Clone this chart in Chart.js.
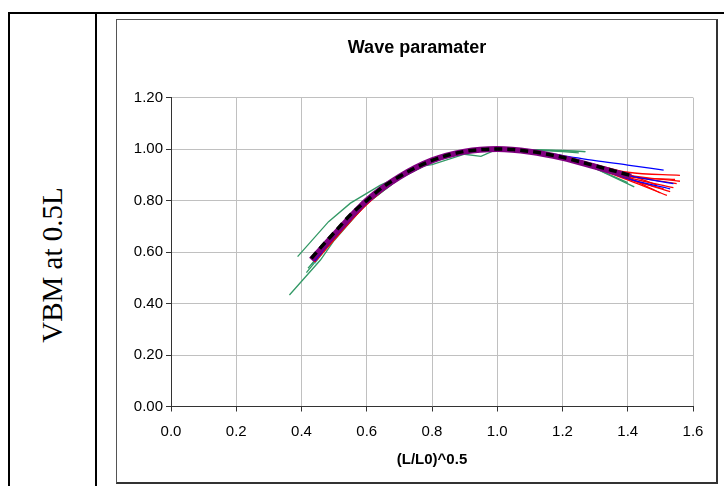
<!DOCTYPE html>
<html>
<head>
<meta charset="utf-8">
<script src="https://cdn.jsdelivr.net/npm/chart.js@4.4.1/dist/chart.umd.min.js"></script>
<style>
  body { margin: 0; background: #fff; }
  #page { position: relative; width: 724px; height: 486px; overflow: hidden; }
  .ln { position: absolute; background: #000; }
  #box { position: absolute; left: 116px; top: 19px; width: 602px; height: 465px; box-sizing: border-box;
         border: 1px solid #555; border-right: 2px solid #333; border-bottom: 2px solid #333; }
  #side { position: absolute; left: 52px; top: 265px; transform: translate(-50%, -50%) rotate(-90deg);
          font: 29px "Liberation Serif", "Times New Roman", serif; white-space: nowrap; color: #000; }
  #wave { position: absolute; left: 0; top: 0; }
</style>
</head>
<body>
<div id="page">
  <div class="ln" style="left:8px;top:12px;width:716px;height:2px"></div>
  <div class="ln" style="left:8px;top:12px;width:2px;height:474px"></div>
  <div class="ln" style="left:95px;top:12px;width:2px;height:474px"></div>
  <div id="box"></div>
  <div id="side">VBM at 0.5L</div>
  <canvas id="wave" width="724" height="486"></canvas>
</div>
<script>
// axis ticks
const X_TICKS = [0, 0.2, 0.4, 0.6, 0.8, 1.0, 1.2, 1.4, 1.6];
const Y_TICKS = [0, 0.2, 0.4, 0.6, 0.8, 1.0, 1.2];

// mean curve (black dashed) and the thick purple one
const meanX = [0.43, 0.45, 0.5, 0.55, 0.6, 0.65, 0.7, 0.75, 0.8, 0.85, 0.9, 0.95, 1.0, 1.05, 1.1, 1.15, 1.2, 1.25, 1.3, 1.35, 1.41];
const meanY = [0.575, 0.605, 0.675, 0.745, 0.80, 0.853, 0.893, 0.928, 0.956, 0.977, 0.991, 0.998, 1.0, 0.998, 0.991, 0.981, 0.968, 0.952, 0.935, 0.918, 0.897];
const purpleX = [0.43, 0.5, 0.6, 0.7, 0.8, 0.9, 1.0, 1.1, 1.2, 1.3, 1.41];
const purpleY = [0.57, 0.667, 0.80, 0.892, 0.956, 0.99, 1.0, 0.99, 0.966, 0.932, 0.893];

// red runs share the body x values, each has its own tail end
const redX = [0.44, 0.5, 0.6, 0.7, 0.8, 0.9, 1.0, 1.1, 1.2, 1.3, 1.4];
const red1 = [0.575, 0.66, 0.795, 0.89, 0.955, 0.99, 1.0, 0.992, 0.97, 0.94, 0.91];
const red2 = [0.57, 0.655, 0.79, 0.888, 0.954, 0.99, 1.0, 0.99, 0.965, 0.933, 0.897];
const red3 = [0.565, 0.65, 0.788, 0.886, 0.953, 0.989, 1.0, 0.99, 0.964, 0.93, 0.89];
const red4 = [0.56, 0.648, 0.785, 0.885, 0.952, 0.989, 1.0, 0.989, 0.962, 0.928, 0.885];
const red5 = [0.568, 0.652, 0.79, 0.887, 0.953, 0.99, 1.0, 0.99, 0.963, 0.927, 0.88];
const red6 = [0.572, 0.657, 0.792, 0.889, 0.955, 0.99, 1.0, 0.99, 0.966, 0.932, 0.888];
const red7 = [0.562, 0.65, 0.787, 0.886, 0.953, 0.99, 1.0, 0.99, 0.965, 0.935, 0.9];
const red8 = [0.566, 0.653, 0.789, 0.887, 0.954, 0.99, 1.0, 0.991, 0.967, 0.936, 0.902];
const red9 = [0.563, 0.651, 0.788, 0.886, 0.953, 0.99, 1.0, 0.99, 0.964, 0.931, 0.893];
const red10 = [0.569, 0.654, 0.791, 0.888, 0.954, 0.99, 1.0, 0.99, 0.963, 0.929, 0.884];
const redEndX = [1.56, 1.55, 1.54, 1.53, 1.52, 1.50, 1.56, 1.49, 1.545, 1.51];
const redEndY = [0.898, 0.866, 0.85, 0.835, 0.82, 0.83, 0.875, 0.86, 0.882, 0.845];

// blue runs
const blueX = [0.44, 0.5, 0.6, 0.7, 0.8, 0.9, 1.0, 1.1, 1.2, 1.3, 1.4];
const blue1 = [0.57, 0.66, 0.795, 0.89, 0.955, 0.99, 1.0, 0.993, 0.975, 0.955, 0.938];
const blue2 = [0.568, 0.658, 0.793, 0.889, 0.955, 0.99, 1.0, 0.99, 0.968, 0.935, 0.898];
const blue3 = [0.565, 0.655, 0.79, 0.887, 0.954, 0.99, 1.0, 0.99, 0.966, 0.93, 0.885];
const blueEndX = [1.51, 1.54, 1.53];
const blueEndY = [0.918, 0.866, 0.845];

// teal and orange (mostly hidden under the bundle)
const tealX = [0.44, 0.5, 0.6, 0.7, 0.8, 0.9, 1.0, 1.1, 1.2, 1.3, 1.4];
const tealY = [0.555, 0.652, 0.79, 0.887, 0.954, 0.99, 1.0, 0.99, 0.965, 0.932, 0.895];
const orangeX = [0.45, 0.5, 0.6, 0.7, 0.8, 0.9, 1.0, 1.1, 1.2, 1.3, 1.38];
const orangeY = [0.575, 0.66, 0.793, 0.888, 0.954, 0.99, 1.0, 0.99, 0.966, 0.934, 0.905];

// green runs (rougher, with kinks)
const green1X = [0.388, 0.483, 0.55, 0.642, 0.7, 0.8, 0.9, 1.0, 1.1, 1.2, 1.27];
const green1Y = [0.582, 0.718, 0.79, 0.86, 0.893, 0.955, 0.99, 1.0, 0.998, 0.995, 0.99];
const green2X = [0.363, 0.458, 0.5, 0.6, 0.7, 0.8, 0.9, 1.0, 1.1, 1.2, 1.3, 1.42];
const green2Y = [0.433, 0.569, 0.645, 0.79, 0.885, 0.95, 0.985, 0.998, 0.99, 0.963, 0.925, 0.853];
const green3X = [0.42, 0.5, 0.6, 0.7, 0.75, 0.8, 0.9, 0.95, 1.0, 1.1, 1.2, 1.27];
const green3Y = [0.537, 0.655, 0.79, 0.89, 0.93, 0.94, 0.98, 0.972, 1.0, 0.998, 0.993, 0.99];
const green4X = [0.43, 0.5, 0.6, 0.7, 0.8, 0.9, 1.0, 1.1, 1.2, 1.25];
const green4Y = [0.55, 0.66, 0.795, 0.888, 0.953, 0.99, 1.0, 0.997, 0.99, 0.985];
const green5X = [0.415, 0.5, 0.6, 0.7, 0.8, 0.9, 1.0, 1.1, 1.2, 1.3, 1.4];
const green5Y = [0.52, 0.65, 0.788, 0.886, 0.952, 0.99, 1.0, 0.99, 0.962, 0.925, 0.87];

const FONT = "'Liberation Sans', Arial, Helvetica, sans-serif";

function pts(xs, ys) {
  return xs.map((x, i) => ({ x: x, y: ys[i] }));
}

function line(data, color, width, order, smooth) {
  return {
    data: data,
    borderColor: color,
    borderWidth: width,
    pointRadius: 0,
    fill: false,
    order: order,
    tension: smooth ? 0.4 : 0,
    cubicInterpolationMode: smooth ? 'monotone' : 'default'
  };
}

const datasets = [];

// black dashed on top
const mean = line(pts(meanX, meanY), '#000000', 3.5, 0, true);
mean.borderDash = [8, 5];
datasets.push(mean);
datasets.push(line(pts(purpleX, purpleY), '#800080', 6, 1, true));

[blue1, blue2, blue3].forEach((ys, k) => {
  datasets.push(line(pts(blueX, ys).concat([{ x: blueEndX[k], y: blueEndY[k] }]), '#0000FF', 1.3, 2, true));
});
[red1, red2, red3, red4, red5, red6, red7, red8, red9, red10].forEach((ys, k) => {
  datasets.push(line(pts(redX, ys).concat([{ x: redEndX[k], y: redEndY[k] }]), '#FF0000', 1.3, 3, true));
});
datasets.push(line(pts(tealX, tealY), '#33CCCC', 1.3, 4, true));
datasets.push(line(pts(orangeX, orangeY), '#FF9900', 1.3, 4, true));

[[green1X, green1Y], [green2X, green2Y], [green3X, green3Y], [green4X, green4Y], [green5X, green5Y]].forEach(g => {
  datasets.push(line(pts(g[0], g[1]), '#339966', 1.3, 5, false));
});

new Chart(document.getElementById('wave').getContext('2d'), {
  type: 'line',
  data: { datasets: datasets },
  options: {
    responsive: false,
    animation: false,
    events: [],
    layout: { padding: { left: 117, right: 7, top: 0, bottom: 0 } },
    plugins: {
      legend: { display: false },
      tooltip: { enabled: false },
      title: {
        display: true,
        text: 'Wave paramater',
        color: '#000',
        font: { family: FONT, size: 18, weight: 'bold' },
        padding: { top: 37, bottom: 39 }
      }
    },
    scales: {
      x: {
        type: 'linear',
        min: X_TICKS[0],
        max: X_TICKS[X_TICKS.length - 1],
        afterBuildTicks: s => { s.ticks = X_TICKS.map(v => ({ value: v })); },
        afterFit: s => { s.height = 79.5; },
        ticks: {
          color: '#000',
          font: { family: FONT, size: 15 },
          padding: 11,
          maxRotation: 0,
          callback: v => Number(v).toFixed(1)
        },
        grid: { color: '#c0c0c0', lineWidth: 1, tickColor: '#333', tickLength: 5 },
        border: { color: '#333', width: 1 },
        title: {
          display: true,
          text: '(L/L0)^0.5',
          color: '#000',
          font: { family: FONT, size: 15, weight: 'bold' },
          padding: { top: 0, bottom: 17 }
        }
      },
      y: {
        type: 'linear',
        min: Y_TICKS[0],
        max: Y_TICKS[Y_TICKS.length - 1],
        afterBuildTicks: s => { s.ticks = Y_TICKS.map(v => ({ value: v })); },
        afterFit: s => { s.width = 54; },
        ticks: {
          color: '#000',
          font: { family: FONT, size: 15 },
          padding: 3,
          callback: v => Number(v).toFixed(2)
        },
        grid: { color: '#c0c0c0', lineWidth: 1, tickColor: '#333', tickLength: 5 },
        border: { color: '#333', width: 1 }
      },
      y2: {
        type: 'linear',
        position: 'right',
        afterFit: s => { s.width = 24; },
        ticks: { display: false },
        grid: { display: false, drawTicks: false },
        border: { display: false }
      }
    }
  }
});
</script>
</body>
</html>
